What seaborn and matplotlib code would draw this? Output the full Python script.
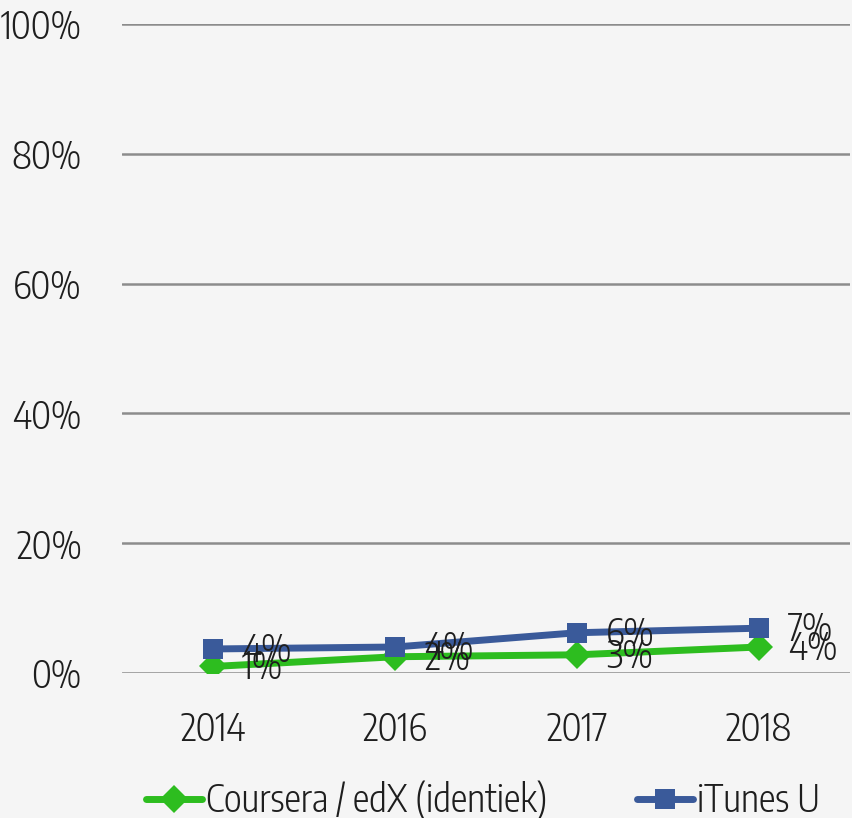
import matplotlib
matplotlib.use("Agg")
import matplotlib.pyplot as plt
import seaborn as sns
import pandas as pd
from matplotlib import font_manager

years = ["2014", "2016", "2017", "2018"]
coursera = [1, 2.5, 2.8, 4]
itunes = [3.7, 4, 6.2, 6.9]
coursera_labels = ["1%", "2%", "3%", "4%"]
itunes_labels = ["4%", "4%", "6%", "7%"]
series_names = ["Coursera / edX (identiek)", "iTunes U"]

sns.set_style("white")

# smalle, lichte letter zoals in het origineel
fonts = font_manager.fontManager.ttflist
fam, weight = "DejaVu Sans", 400
for cand in ["Open Sans Condensed Light", "Open Sans Condensed",
             "Encode Sans Condensed", "Barlow Condensed", "Asap Condensed"]:
    hits = [f for f in fonts if f.name == cand and f.style == "normal"]
    if hits:
        best = min(hits, key=lambda f: abs(int(f.weight) - 300))
        if abs(int(best.weight) - 300) <= 100:
            fam, weight = cand, int(best.weight)
            break
plt.rcParams["font.family"] = [fam, "DejaVu Sans"]
plt.rcParams["font.weight"] = weight

bg = "#f5f5f5"
green = "#2dbd1f"
blue = "#3a5a9a"
txt = "#1e1e1e"
fs = 27

df = pd.DataFrame({
    "year": years * 2,
    "value": coursera + itunes,
    "serie": [series_names[0]] * 4 + [series_names[1]] * 4,
})

fig = plt.figure(figsize=(8.53, 8.18), dpi=100, facecolor=bg)
ax = fig.add_axes([0.143, 0.1773, 0.8535, 0.7934], facecolor=bg)

sns.lineplot(data=df, x="year", y="value", hue="serie", style="serie",
             palette=[green, blue], markers=["D", "s"], dashes=False,
             linewidth=5, markersize=14, markeredgewidth=0, ax=ax, sort=False)

# datalabels rechts van de punten
for i in range(len(years)):
    ax.text(i + 0.16, coursera[i] - 0.2, coursera_labels[i], fontsize=fs,
            va="center", ha="left", color=txt)
    ax.text(i + 0.16, itunes[i] - 0.2, itunes_labels[i], fontsize=fs,
            va="center", ha="left", color=txt)

ax.set_xlim(-0.5, 3.5)
ax.set_ylim(0, 100)
ax.set_yticks(range(0, 101, 20))
ax.set_yticklabels([f"{v}%" for v in range(0, 101, 20)])
ax.yaxis.grid(True, color="#8c8c8c", linewidth=1.8)
ax.set_axisbelow(True)
ax.tick_params(axis="both", labelsize=fs, colors=txt, length=0)
ax.tick_params(axis="y", pad=29)
ax.tick_params(axis="x", pad=27)
ax.set_xlabel("")
ax.set_ylabel("")
for s in ax.spines.values():
    s.set_visible(False)

leg = ax.legend(loc="upper left", bbox_to_anchor=(0.012, -0.142), ncol=2,
                frameon=False, fontsize=fs, handlelength=1.5, handletextpad=0.1,
                columnspacing=2.4, borderaxespad=0)
for t in leg.get_texts():
    t.set_color(txt)

fig.savefig("out.png", dpi=100, facecolor=bg)
